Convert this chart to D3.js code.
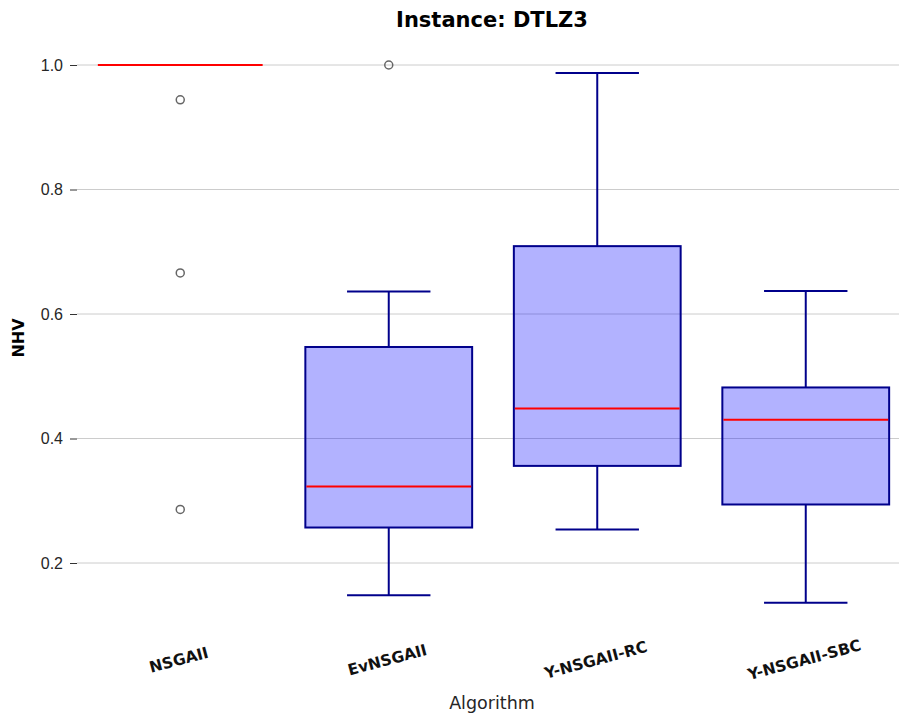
<!DOCTYPE html>
<html>
<head>
<meta charset="utf-8">
<script src="https://cdnjs.cloudflare.com/ajax/libs/d3/7.8.5/d3.min.js"></script>
<style>
  body { margin: 0; background: #fff; }
  svg { font-family: "DejaVu Sans", sans-serif; }
</style>
</head>
<body>
<svg id="chart" width="899" height="722"></svg>
<script>
// box statistics
var algorithms = ["NSGAII", "EvNSGAII", "Y-NSGAII-RC", "Y-NSGAII-SBC"];
var whiskerLow  = [1.0, 0.148, 0.254, 0.136];
var q1          = [1.0, 0.257, 0.356, 0.294];
var medians     = [1.0, 0.323, 0.448, 0.430];
var q3          = [1.0, 0.547, 0.709, 0.482];
var whiskerHigh = [1.0, 0.636, 0.987, 0.637];
var outliers    = [[0.944, 0.666, 0.286], [1.0], [], []];
var yTicks = [0.2, 0.4, 0.6, 0.8, 1.0];

var svg = d3.select("#chart");

var x = d3.scaleBand()
  .domain(algorithms)
  .range([76, 910])
  .paddingInner(0)
  .paddingOuter(0);

var y = d3.scaleLinear()
  .domain([0.2, 1.0])
  .range([563, 65]);

var boxW = x.bandwidth() * 0.8;

// grid lines
svg.append("g")
  .selectAll("line")
  .data(yTicks)
  .enter().append("line")
  .attr("x1", 77)
  .attr("x2", 899)
  .attr("y1", function(d) { return y(d); })
  .attr("y2", function(d) { return y(d); })
  .attr("stroke", "#cccccc")
  .attr("stroke-width", 1);

// y axis (ticks + labels only)
var yAxis = d3.axisLeft(y).tickValues(yTicks).tickFormat(d3.format(".1f")).tickSize(7).tickPadding(7);
var ya = svg.append("g")
  .attr("transform", "translate(77,0)")
  .call(yAxis);
ya.select(".domain").remove();
ya.selectAll(".tick line").attr("stroke", "#333");
ya.selectAll(".tick text").attr("fill", "#262626").style("font-size", "16px");

var data = algorithms.map(function(a, i) {
  return { name: a, lo: whiskerLow[i], q1: q1[i], med: medians[i], q3: q3[i], hi: whiskerHigh[i], out: outliers[i] };
});

var boxes = svg.append("g").selectAll("g")
  .data(data)
  .enter().append("g")
  .attr("transform", function(d) { return "translate(" + (x(d.name) + x.bandwidth() / 2) + ",0)"; });

// whiskers
boxes.append("line")
  .attr("y1", function(d) { return y(d.q3); })
  .attr("y2", function(d) { return y(d.hi); })
  .attr("stroke", "#00008b").attr("stroke-width", 2);
boxes.append("line")
  .attr("y1", function(d) { return y(d.q1); })
  .attr("y2", function(d) { return y(d.lo); })
  .attr("stroke", "#00008b").attr("stroke-width", 2);
// caps
boxes.append("line")
  .attr("x1", -boxW / 4).attr("x2", boxW / 4)
  .attr("y1", function(d) { return y(d.hi); })
  .attr("y2", function(d) { return y(d.hi); })
  .attr("stroke", "#00008b").attr("stroke-width", 2);
boxes.append("line")
  .attr("x1", -boxW / 4).attr("x2", boxW / 4)
  .attr("y1", function(d) { return y(d.lo); })
  .attr("y2", function(d) { return y(d.lo); })
  .attr("stroke", "#00008b").attr("stroke-width", 2);

// box
boxes.append("rect")
  .attr("x", -boxW / 2)
  .attr("width", boxW)
  .attr("y", function(d) { return y(d.q3); })
  .attr("height", function(d) { return y(d.q1) - y(d.q3); })
  .attr("fill", "rgba(0,0,255,0.3)")
  .attr("stroke", "#00008b")
  .attr("stroke-width", 2);

// median
boxes.append("line")
  .attr("x1", -boxW / 2 + 1).attr("x2", boxW / 2 - 1)
  .attr("y1", function(d) { return y(d.med); })
  .attr("y2", function(d) { return y(d.med); })
  .attr("stroke", "red").attr("stroke-width", 2);

// outliers
boxes.selectAll("circle")
  .data(function(d) { return d.out; })
  .enter().append("circle")
  .attr("cx", 0)
  .attr("cy", function(d) { return y(d); })
  .attr("r", 4)
  .attr("fill", "none")
  .attr("stroke", "#666")
  .attr("stroke-width", 1.5);

// x tick labels
svg.append("g").selectAll("text")
  .data(algorithms)
  .enter().append("text")
  .attr("transform", function(d) { return "translate(" + (x(d) + x.bandwidth() / 2) + ",665) rotate(-15)"; })
  .attr("text-anchor", "middle")
  .style("font-size", "15.5px")
  .style("font-weight", "bold")
  .attr("fill", "#111")
  .text(function(d) { return d; });

// title
svg.append("text")
  .attr("x", 492)
  .attr("y", 27)
  .attr("text-anchor", "middle")
  .style("font-size", "21px")
  .style("font-weight", "bold")
  .text("Instance: DTLZ3");

// axis labels
svg.append("text")
  .attr("x", 492)
  .attr("y", 709)
  .attr("text-anchor", "middle")
  .style("font-size", "17.5px")
  .attr("fill", "#262626")
  .text("Algorithm");

svg.append("text")
  .attr("transform", "translate(24,338) rotate(-90)")
  .attr("text-anchor", "middle")
  .style("font-size", "16px")
  .style("font-weight", "bold")
  .text("NHV");
</script>
</body>
</html>
